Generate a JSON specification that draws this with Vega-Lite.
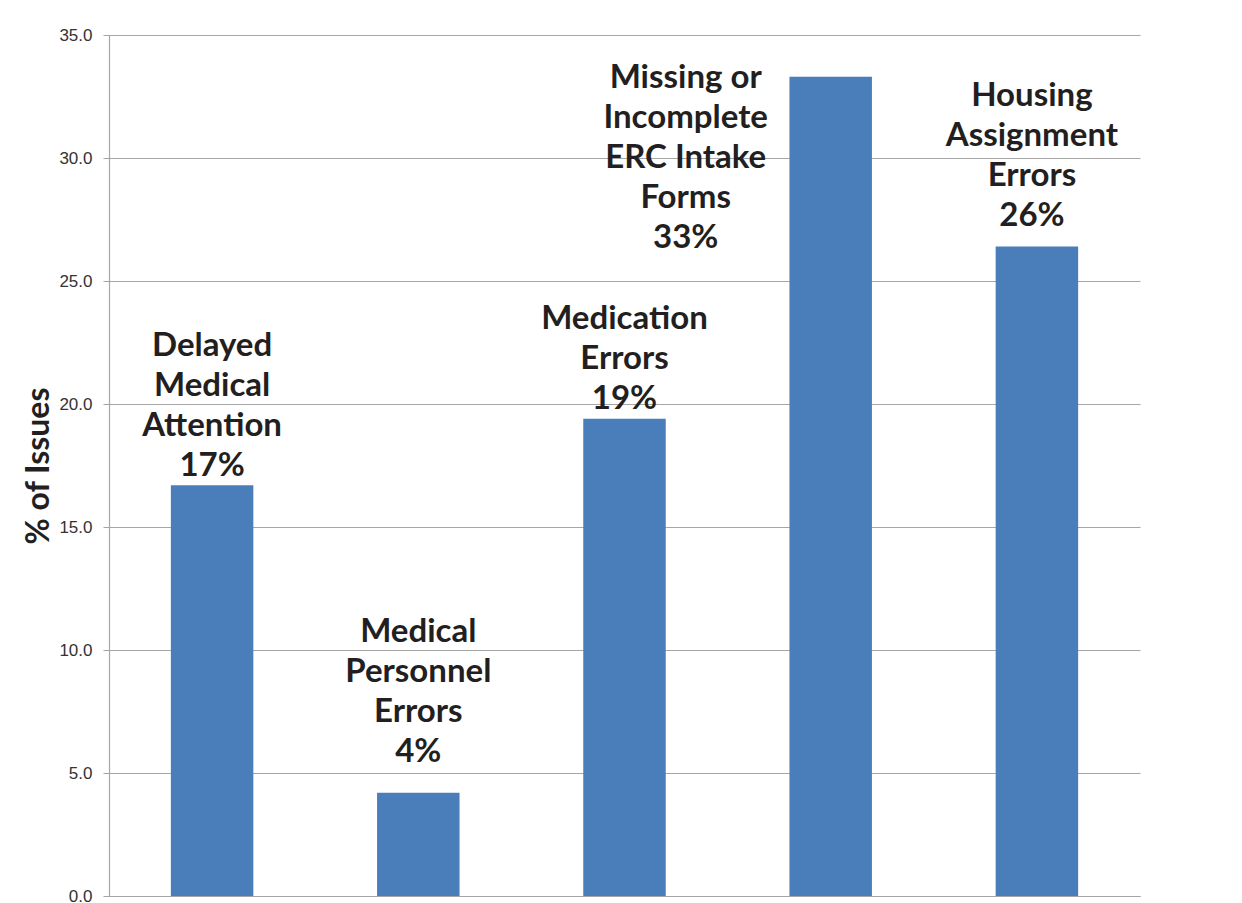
{
  "$schema": "https://vega.github.io/schema/vega-lite/v6.json",
  "width": 1031,
  "height": 861,
  "autosize": {"type": "none"},
  "padding": {"left": 109, "top": 35, "right": 102, "bottom": 7},
  "background": "white",
  "data": {
    "values": [
      {"issue": "Delayed Medical Attention", "pct": 16.7, "label": ["Delayed", "Medical", "Attention", "17%"], "grp": "a"},
      {"issue": "Medical Personnel Errors", "pct": 4.2, "label": ["Medical", "Personnel", "Errors", "4%"], "grp": "b"},
      {"issue": "Medication Errors", "pct": 19.4, "label": ["Medication", "Errors", "19%"], "grp": "e"},
      {"issue": "Missing or Incomplete ERC Intake Forms", "pct": 33.3, "label": ["Missing or", "Incomplete", "ERC Intake", "Forms", "33%"], "grp": "d"},
      {"issue": "Housing Assignment Errors", "pct": 26.4, "label": ["Housing", "Assignment", "Errors", "26%"], "grp": "c"}
    ]
  },
  "encoding": {
    "x": {
      "field": "issue", "type": "nominal", "sort": null,
      "scale": {"paddingInner": 0.6, "paddingOuter": 0.3},
      "axis": {"labels": false, "ticks": false, "title": null, "domainColor": "#a6a6a6", "domainWidth": 1.2}
    },
    "y": {
      "field": "pct", "type": "quantitative",
      "scale": {"domain": [0, 35], "nice": false},
      "axis": {
        "values": [0, 5, 10, 15, 20, 25, 30, 35],
        "format": ".1f",
        "title": "% of Issues",
        "titleFont": "Lato",
        "titleFontSize": 32,
        "titleFontWeight": "bold",
        "titleColor": "#231f20",
        "titlePadding": 3,
        "labelFont": "Liberation Sans",
        "labelFontSize": 17,
        "labelColor": "#333333",
        "labelPadding": 11,
        "tickSize": 6,
        "tickColor": "#a6a6a6",
        "domainColor": "#a6a6a6",
        "domainWidth": 1.2,
        "gridColor": "#a6a6a6",
        "gridWidth": 1.2
      }
    }
  },
  "layer": [
    {"mark": {"type": "bar", "color": "#4a7ebb"}},
    {
      "transform": [{"filter": "datum.grp == 'a'"}],
      "mark": {"type": "text", "baseline": "bottom", "align": "center", "dy": -122, "lineHeight": 40, "font": "Lato", "fontSize": 33, "fontWeight": "bold", "color": "#231f20"},
      "encoding": {"text": {"field": "label"}}
    },
    {
      "transform": [{"filter": "datum.grp == 'e'"}],
      "mark": {"type": "text", "baseline": "bottom", "align": "center", "dy": -83, "lineHeight": 40, "font": "Lato", "fontSize": 33, "fontWeight": "bold", "color": "#231f20"},
      "encoding": {"text": {"field": "label"}}
    },
    {
      "transform": [{"filter": "datum.grp == 'b'"}],
      "mark": {"type": "text", "baseline": "bottom", "align": "center", "dy": -144, "lineHeight": 40, "font": "Lato", "fontSize": 33, "fontWeight": "bold", "color": "#231f20"},
      "encoding": {"text": {"field": "label"}}
    },
    {
      "transform": [{"filter": "datum.grp == 'c'"}],
      "mark": {"type": "text", "baseline": "bottom", "align": "center", "dx": -5, "dy": -134, "lineHeight": 40, "font": "Lato", "fontSize": 33, "fontWeight": "bold", "color": "#231f20"},
      "encoding": {"text": {"field": "label"}}
    },
    {
      "transform": [{"filter": "datum.grp == 'd'"}],
      "mark": {"type": "text", "baseline": "bottom", "align": "center", "dx": -145, "dy": 18, "lineHeight": 40, "font": "Lato", "fontSize": 33, "fontWeight": "bold", "color": "#231f20"},
      "encoding": {"text": {"field": "label"}}
    }
  ],
  "config": {"view": {"stroke": null}}
}
